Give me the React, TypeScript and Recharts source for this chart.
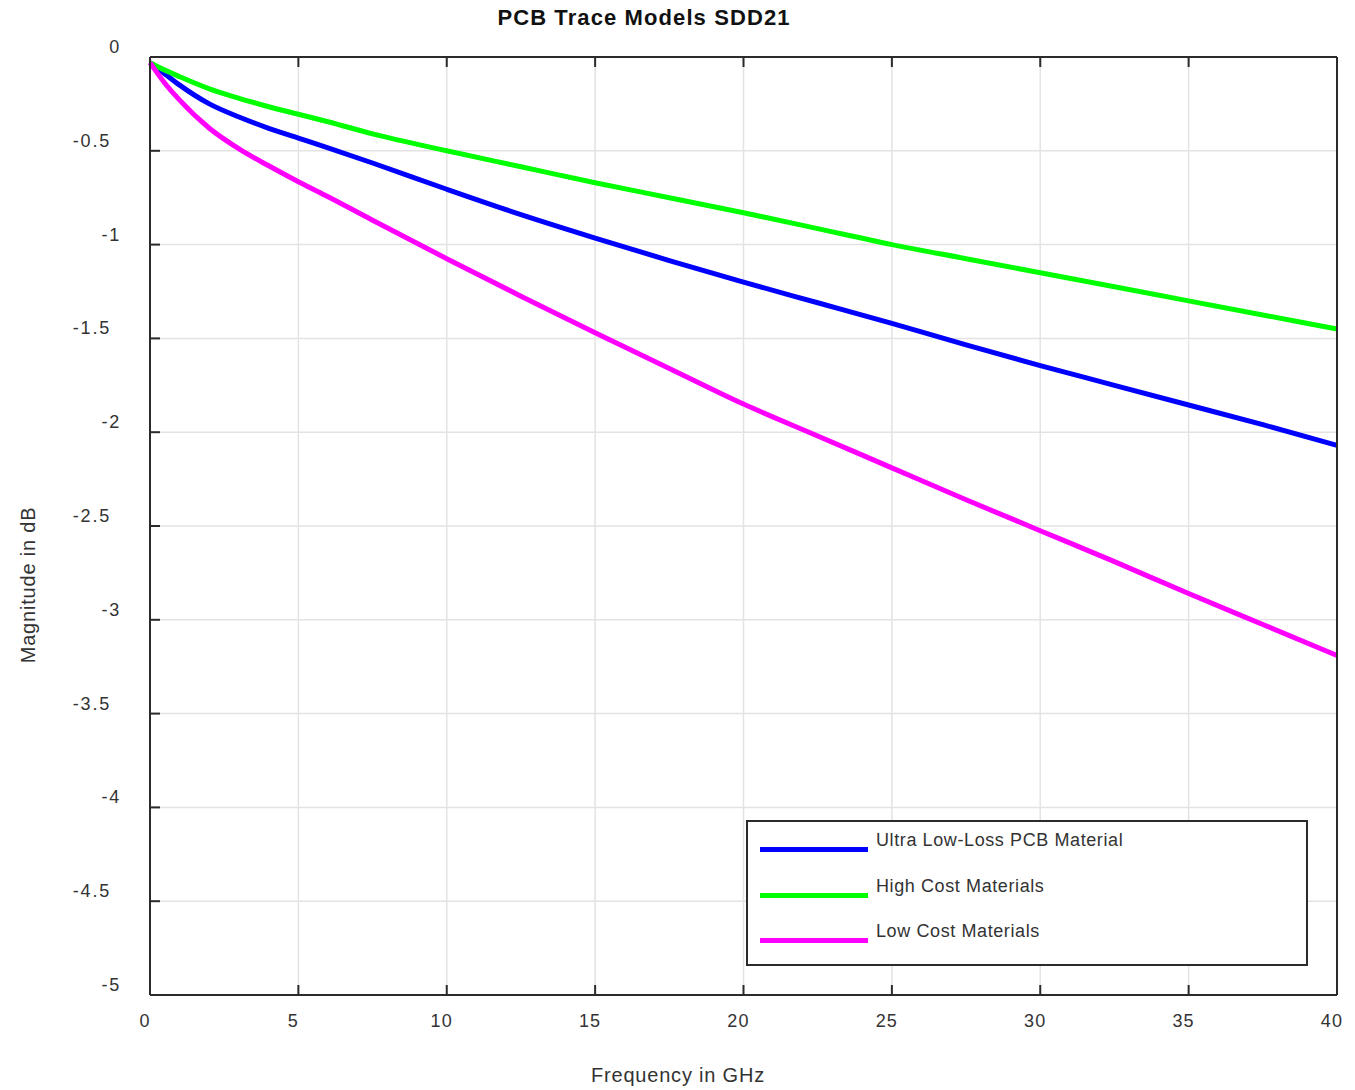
import { LineChart, Line, XAxis, YAxis, CartesianGrid } from "recharts";

// frequency points in GHz
const freqs = [0, 0.5, 1, 2, 3, 4, 5, 6, 7.5, 10, 12.5, 15, 17.5, 20, 22.5, 25, 27.5, 30, 32.5, 35, 37.5, 40];

// SDD21 magnitude in dB
const ultraLowLoss = [-0.03, -0.09, -0.15, -0.25, -0.32, -0.38, -0.432, -0.484, -0.565, -0.705, -0.84, -0.965, -1.085, -1.2, -1.31, -1.42, -1.535, -1.645, -1.75, -1.855, -1.96, -2.07];
const highCost = [-0.03, -0.07, -0.105, -0.17, -0.22, -0.265, -0.305, -0.345, -0.41, -0.5, -0.585, -0.67, -0.75, -0.83, -0.915, -1.0, -1.075, -1.15, -1.225, -1.3, -1.375, -1.45];
const lowCost = [-0.03, -0.14, -0.23, -0.38, -0.49, -0.58, -0.665, -0.745, -0.87, -1.075, -1.275, -1.47, -1.66, -1.85, -2.02, -2.19, -2.36, -2.525, -2.69, -2.86, -3.025, -3.19];

const xTicks = [0, 5, 10, 15, 20, 25, 30, 35, 40];
const yTicks = [0, -0.5, -1, -1.5, -2, -2.5, -3, -3.5, -4, -4.5, -5];

const seriesList = [
  { key: "ultra", name: "Ultra Low-Loss PCB Material", color: "#0000ff" },
  { key: "high", name: "High Cost Materials", color: "#00ff00" },
  { key: "low", name: "Low Cost Materials", color: "#ff00ff" },
];

const data = freqs.map((f, i) => ({
  f,
  ultra: ultraLowLoss[i],
  high: highCost[i],
  low: lowCost[i],
}));

const font = "'Liberation Sans', Arial, sans-serif";
const axisColor = "#2b2b2b";
const textColor = "#333";

const XTick = ({ x, y, payload }: any) => (
  <text x={x - 5} y={y} textAnchor="middle" dominantBaseline="hanging" fontSize={18} letterSpacing={1.2} fill={textColor} fontFamily={font}>
    {payload.value}
  </text>
);

const YTick = ({ x, y, payload }: any) => {
  const half = !Number.isInteger(payload.value);
  return (
    <text x={half ? x - 10 : x} y={y - 10} textAnchor="end" dominantBaseline="central" fontSize={18} letterSpacing={1.8} fill={textColor} fontFamily={font}>
      {payload.value}
    </text>
  );
};

// tick lines only, no labels (top and right edges of the box)
const NoLabel = () => <g />;

export default function App() {
  return (
    <div style={{ position: "absolute", left: 0, top: 0, width: 1355, height: 1090, background: "#fff", fontFamily: font }}>
      <div style={{ position: "absolute", left: 644, top: 5, transform: "translateX(-50%)", whiteSpace: "nowrap", fontWeight: "bold", fontSize: 22, letterSpacing: 1.1, color: "#111" }}>
        PCB Trace Models SDD21
      </div>
      <LineChart width={1355} height={1090} data={data} margin={{ top: 56, right: 17, bottom: 65, left: 0 }}>
        <CartesianGrid stroke="#e3e3e3" strokeWidth={1.5} />
        <XAxis
          dataKey="f"
          type="number"
          domain={[0, 40]}
          ticks={xTicks}
          interval={0}
          height={30}
          stroke={axisColor}
          strokeWidth={2}
          tickSize={-10}
          tickMargin={29}
          tick={<XTick />}
        />
        <XAxis
          xAxisId="top"
          dataKey="f"
          type="number"
          orientation="top"
          height={1}
          domain={[0, 40]}
          ticks={xTicks}
          interval={0}
          stroke={axisColor}
          strokeWidth={2}
          tickSize={-10}
          tick={<NoLabel />}
        />
        <YAxis
          type="number"
          domain={[-5, 0]}
          ticks={yTicks}
          interval={0}
          width={150}
          stroke={axisColor}
          strokeWidth={2}
          tickSize={-10}
          tickMargin={39}
          tick={<YTick />}
        />
        <YAxis
          yAxisId="right"
          type="number"
          orientation="right"
          width={1}
          domain={[-5, 0]}
          ticks={yTicks}
          interval={0}
          stroke={axisColor}
          strokeWidth={2}
          tickSize={-10}
          tick={<NoLabel />}
        />
        {seriesList.map((s) => (
          <Line
            key={s.key}
            dataKey={s.key}
            name={s.name}
            type="monotone"
            stroke={s.color}
            strokeWidth={5}
            dot={false}
            isAnimationActive={false}
          />
        ))}
      </LineChart>
      <div style={{ position: "absolute", left: 678, top: 1064, transform: "translateX(-50%)", whiteSpace: "nowrap", fontSize: 20, letterSpacing: 0.8, color: textColor }}>
        Frequency in GHz
      </div>
      <div
        style={{
          position: "absolute",
          left: 28,
          top: 585,
          transform: "translate(-50%, -50%) rotate(-90deg)",
          fontSize: 20,
          letterSpacing: 0.8,
          color: textColor,
          whiteSpace: "nowrap",
        }}
      >
        Magnitude in dB
      </div>
      <div
        style={{
          position: "absolute",
          left: 746,
          top: 820,
          width: 558,
          height: 142,
          border: `2px solid ${axisColor}`,
          background: "#fff",
        }}
      >
        {seriesList.map((s, i) => (
          <div key={s.key} style={{ position: "absolute", left: 10, top: 8 + i * 45.5, height: 30, width: 540 }}>
            <div style={{ position: "absolute", left: 2, top: 17, width: 108, height: 5, background: s.color }} />
            <div style={{ position: "absolute", left: 118, top: 0, fontSize: 18, letterSpacing: 0.6, color: textColor, whiteSpace: "nowrap" }}>{s.name}</div>
          </div>
        ))}
      </div>
    </div>
  );
}
